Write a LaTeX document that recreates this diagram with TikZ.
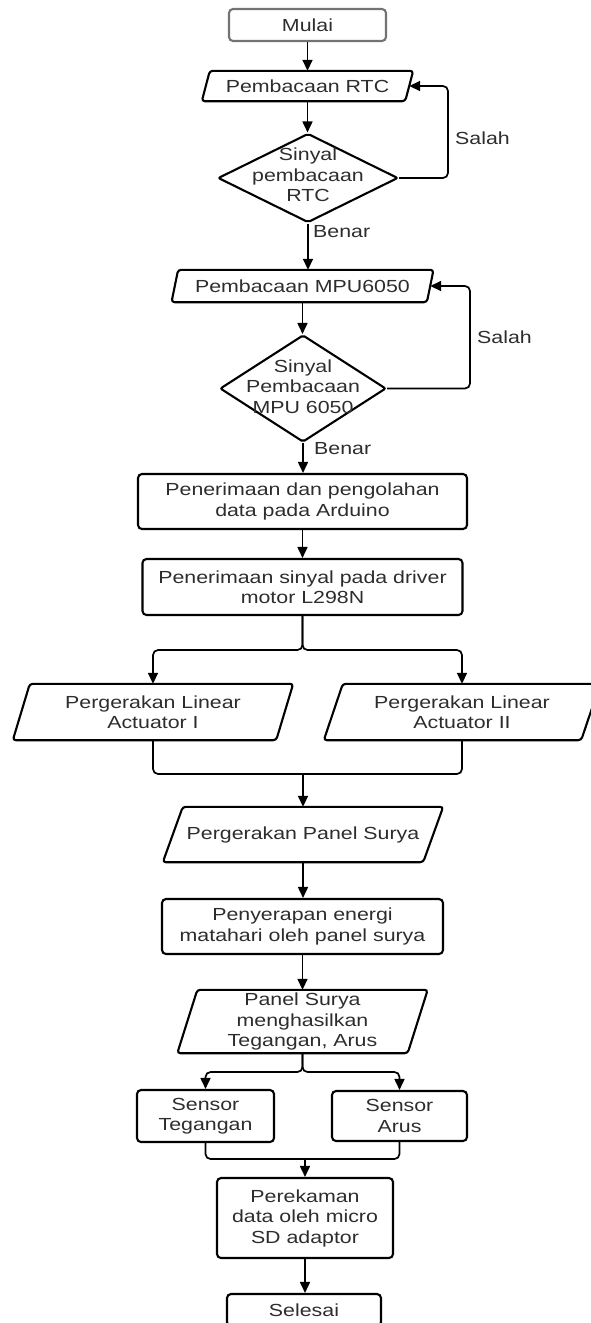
\documentclass[tikz,border=0pt]{standalone}
\usepackage{fontspec}
\setmainfont{Liberation Sans}[FakeStretch=1.22]
\usetikzlibrary{arrows.meta,shapes.geometric,calc}
\definecolor{txt}{RGB}{45,45,45}
\definecolor{startgray}{RGB}{115,115,115}
\begin{document}
\begin{tikzpicture}[x=1pt,y=-1pt, font=\fontsize{17.5}{20.5}\selectfont,
  every node/.style={text=txt},
  boxline/.style={draw=black, line width=2.1pt},
  procbox/.style={rectangle, boxline, rounded corners=4pt, align=center, inner sep=2pt},
  paranode/.style={rectangle, align=center, inner sep=2pt},
  decbox/.style={diamond, boxline, rounded corners=2pt, inner sep=0pt},
  lbl/.style={anchor=west, inner sep=1pt},
  arr/.style={draw=black, line width=1.7pt, rounded corners=5pt, -{Triangle[length=11pt,width=10pt]}},
  conn/.style={draw=black, line width=1.7pt, rounded corners=5pt}]
\useasboundingbox (0,0) rectangle (591,1323);

% nodes
\node[procbox, draw=startgray, minimum width=157pt, minimum height=32pt] (mulai) at (307.5,25) {Mulai};
\node[paranode, minimum width=203pt, minimum height=30pt] (rtc) at (307.5,86) {Pembacaan RTC};
\node[decbox, minimum width=180pt, minimum height=89pt,
  label={[align=center,yshift=3pt]center:Sinyal\\pembacaan\\RTC}] (d1) at (308,178) {};
\node[paranode, minimum width=255pt, minimum height=32pt] (mpu) at (302.5,286) {Pembacaan MPU6050};
\node[decbox, minimum width=166pt, minimum height=107pt,
  label={[align=center,yshift=2pt]center:Sinyal\\Pembacaan\\MPU 6050}] (d2) at (303,388.5) {};
\node[procbox, minimum width=329pt, minimum height=55pt] (ard) at (302.5,501.5) {Penerimaan dan pengolahan\\data pada Arduino};
\node[procbox, minimum width=320pt, minimum height=56pt] (drv) at (302.5,587) {Penerimaan sinyal pada driver\\motor L298N};
\node[paranode, minimum width=263pt, minimum height=56pt] (act1) at (153,712) {Pergerakan Linear\\Actuator I};
\node[paranode, minimum width=257pt, minimum height=56pt] (act2) at (462,712) {Pergerakan Linear\\Actuator II};
\node[paranode, minimum width=260pt, minimum height=55pt] (ps) at (303,834.5) {Pergerakan Panel Surya};
\node[procbox, minimum width=281pt, minimum height=55pt] (pen) at (302.5,926.5) {Penyerapan energi\\matahari oleh panel surya};
\node[paranode, minimum width=230pt, minimum height=63pt] (psm) at (302.5,1021.5) {Panel Surya\\menghasilkan\\Tegangan, Arus};
\node[procbox, minimum width=137pt, minimum height=52pt] (st) at (205.5,1116) {Sensor\\Tegangan};
\node[procbox, minimum width=135pt, minimum height=50pt] (sa) at (399.5,1116) {Sensor\\Arus};
\node[procbox, minimum width=176pt, minimum height=80pt] (rek) at (305,1218) {Perekaman\\data oleh micro\\SD adaptor};
\node[procbox, minimum width=154pt, minimum height=32pt] (sel) at (304,1310) {Selesai};

% parallelogram outlines
\foreach \n/\s in {rtc/4, mpu/3.3, act1/8.5, act2/9.5, ps/10, psm/10}
  \draw[boxline, rounded corners=3pt]
    ($(\n.north west)+(\s,0)$) -- ($(\n.north east)+(\s,0)$) --
    ($(\n.south east)-(\s,0)$) -- ($(\n.south west)-(\s,0)$) -- cycle;

% labels
\node[lbl] (salah1) at (454,138) {Salah};
\node[lbl] (benar1) at (312,232) {Benar};
\node[lbl] (salah2) at (476,337) {Salah};
\node[lbl] (benar2) at (313,449) {Benar};

% connectors
\draw[arr] (mulai.south) -- (mulai.south |- rtc.north);
\draw[arr] (rtc.south) -- (rtc.south |- d1.north);
\draw[arr] (d1.south) -- (d1.south |- mpu.north);
\draw[arr] (mpu.south) -- (mpu.south |- d2.north);
\draw[arr] (d2.south) -- (d2.south |- ard.north);
\draw[arr] (ard.south) -- (ard.south |- drv.north);

\coordinate (lp1) at (448,178);
\draw[arr] (d1.east) -- (lp1) |- (rtc.east);
\coordinate (lp2) at (470,388.5);
\draw[arr] (d2.east) -- (lp2) |- (mpu.east);

\coordinate (sp1) at (302.5,650);
\draw[arr] (drv.south) -- (sp1) -| (act1.north);
\draw[arr] (drv.south) -- (sp1) -| (act2.north);
\coordinate (mg1) at (303,774);
\draw[conn] (act1.south) |- (mg1);
\draw[conn] (act2.south) |- (mg1);
\draw[arr] (mg1) -- (mg1 |- ps.north);
\draw[arr] (ps.south) -- (ps.south |- pen.north);
\draw[arr] (pen.south) -- (pen.south |- psm.north);

\coordinate (sp2) at (302.5,1072);
\draw[arr] (psm.south) -- (sp2) -| (st.north);
\draw[arr] (psm.south) -- (sp2) -| (sa.north);
\coordinate (mg2) at (305,1159);
\draw[conn] (st.south) |- (mg2);
\draw[conn] (sa.south) |- (mg2);
\draw[arr] (mg2) -- (mg2 |- rek.north);
\draw[arr] (rek.south) -- (rek.south |- sel.north);
\end{tikzpicture}
\end{document}
